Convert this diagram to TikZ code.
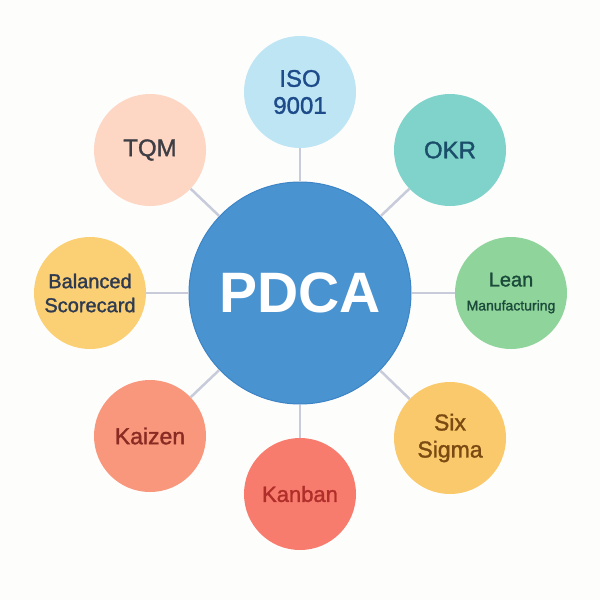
\documentclass[tikz,border=0pt]{standalone}
\usepackage{fontspec}
\setmainfont{Liberation Sans}
\newfontfamily\medfont[FakeBold=1.4]{Liberation Sans}
\usetikzlibrary{positioning}
\definecolor{bgcol}{HTML}{FDFDFC}
\definecolor{linkcol}{HTML}{C8CCDA}
\definecolor{pdcafill}{HTML}{4A93D1}
\definecolor{pdcadraw}{HTML}{3D84C6}
\definecolor{isofill}{HTML}{BEE5F4}
\definecolor{isotext}{HTML}{1E4C8A}
\definecolor{tqmfill}{HTML}{FDD6C4}
\definecolor{tqmtext}{HTML}{3E3E45}
\definecolor{okrfill}{HTML}{80D3CA}
\definecolor{okrtext}{HTML}{1B4E6A}
\definecolor{bscfill}{HTML}{FBCF74}
\definecolor{bsctext}{HTML}{2E3A50}
\definecolor{leanfill}{HTML}{8FD59B}
\definecolor{leantext}{HTML}{1B4A3B}
\definecolor{kaizenfill}{HTML}{F9977C}
\definecolor{kaizentext}{HTML}{8A2B23}
\definecolor{sigmafill}{HTML}{FAC96B}
\definecolor{sigmatext}{HTML}{7A4A12}
\definecolor{kanbanfill}{HTML}{F77C6D}
\definecolor{kanbantext}{HTML}{B02D29}
\tikzset{
  hub/.style={
    circle,
    minimum size=222pt,
    inner sep=0pt,
    draw=pdcadraw,
    line width=1pt,
    fill=pdcafill,
    text=white,
    font=\fontsize{57}{57}\selectfont\bfseries
  },
  sat/.style={
    circle,
    minimum size=112pt,
    inner sep=0pt,
    align=center,
    font=\medfont\fontsize{24}{27}\selectfont
  },
  link/.style={draw=linkcol, line width=2.5pt}
}

\begin{document}
\begin{tikzpicture}[x=1pt, y=-1pt, on grid]
  \fill[bgcol] (0,0) rectangle (600,600);
  \useasboundingbox (0,0) rectangle (600,600);

  \node[hub] (pdca) at (300,293) {PDCA};

  \node[sat, fill=isofill, text=isotext, above=201pt of pdca] (iso) {ISO\\9001};
  \node[sat, fill=tqmfill, text=tqmtext, above left=143pt and 150pt of pdca] (tqm) {TQM};
  \node[sat, fill=okrfill, text=okrtext, above right=143pt and 150pt of pdca] (okr) {OKR};
  \node[sat, fill=bscfill, text=bsctext, left=210pt of pdca,
        font=\medfont\fontsize{20}{24}\selectfont] (bsc) {Balanced\\Scorecard};
  \node[sat, fill=leanfill, text=leantext, right=211pt of pdca,
        font=\medfont\fontsize{20}{24}\selectfont] (lean) {Lean\\{\fontsize{14}{16}\selectfont Manufacturing}};
  \node[sat, fill=kaizenfill, text=kaizentext, below left=143pt and 150pt of pdca,
        font=\medfont\fontsize{23}{27}\selectfont] (kaizen) {Kaizen};
  \node[sat, fill=sigmafill, text=sigmatext, below right=145pt and 150pt of pdca,
        font=\medfont\fontsize{23}{27}\selectfont] (sigma) {Six\\Sigma};
  \node[sat, fill=kanbanfill, text=kanbantext, below=201pt of pdca,
        font=\medfont\fontsize{22}{27}\selectfont] (kanban) {Kanban};

  \foreach \s in {iso,tqm,okr,bsc,lean,kaizen,sigma,kanban}
    \draw[link] (pdca) -- (\s);
\end{tikzpicture}
\end{document}
